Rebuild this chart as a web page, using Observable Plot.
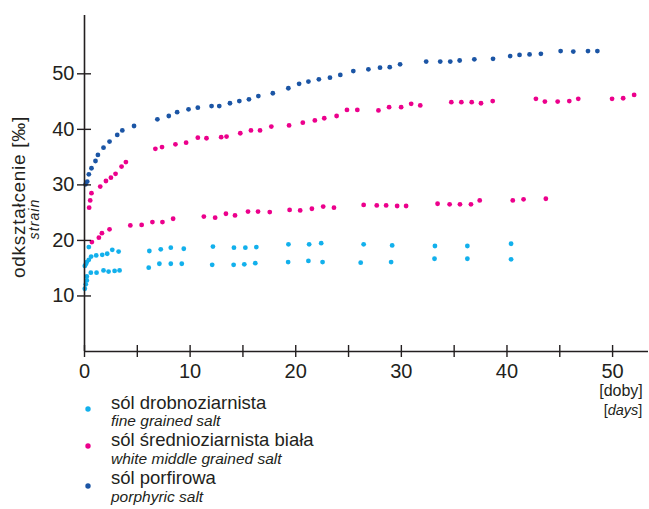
<!DOCTYPE html>
<html>
<head>
<meta charset="utf-8">
<script src="https://cdn.jsdelivr.net/npm/d3@7"></script>
<script src="https://cdn.jsdelivr.net/npm/@observablehq/plot@0.6"></script>
<style>
  body { margin: 0; background: #fff; }
  #wrap { position: relative; width: 649px; height: 509px; overflow: hidden; font-family: "Liberation Sans", Arial, sans-serif; color: #231f20; }
  #wrap > svg { position: absolute; left: 0; top: 0; }
  #legend { position: absolute; left: 0; top: 0; pointer-events: none; }
</style>
</head>
<body>
<div id="wrap"></div>
<script>
// ---- categories / labels ----
const categories = ["sól drobnoziarnista", "sól średnioziarnista biała", "sól porfirowa"];
const categoriesEn = ["fine grained salt", "white middle grained salt", "porphyric salt"];
const colors = ["#12b0ec", "#ec008c", "#1b55a5"];
const yTitle = "odkształcenie [‰]";
const yTitleEn = "strain";
const xTitle = "doby";
const xTitleEn = "days";
const xTickValues = [0, 5, 10, 15, 20, 25, 30, 35, 40, 45, 50];
const xTickLabels = [0, 10, 20, 30, 40, 50];
const yTickValues = [10, 20, 30, 40, 50];

// ---- fine grained salt, sample A (upper) ----
const fineA_x = [0.03, 0.12, 0.22, 0.41, 0.41, 0.63, 1.11, 1.68, 2.15, 2.63, 3.23, 6.14, 7.22, 8.17, 9.4, 12.16, 14.15, 15.23, 16.27, 19.31, 21.27, 22.41, 26.43, 29.13, 33.18, 36.25, 40.39];
const fineA_y = [15.4, 15.7, 16.1, 16.5, 18.8, 17.1, 17.3, 17.4, 17.6, 18.3, 18.0, 18.1, 18.4, 18.7, 18.5, 18.9, 18.7, 18.7, 18.8, 19.3, 19.3, 19.5, 19.3, 19.1, 19.0, 19.0, 19.4];
// ---- fine grained salt, sample B (lower) ----
const fineB_x = [0.03, 0.12, 0.22, 0.22, 0.6, 1.14, 1.8, 2.28, 2.85, 3.32, 6.08, 7.09, 8.17, 9.21, 12.09, 14.12, 15.13, 16.17, 19.28, 21.2, 22.54, 26.15, 29.03, 33.14, 36.25, 40.39];
const fineB_y = [11.3, 12.1, 12.8, 13.5, 14.2, 14.2, 14.6, 14.4, 14.5, 14.6, 15.1, 15.8, 15.8, 15.8, 15.6, 15.6, 15.7, 15.9, 16.1, 16.3, 16.1, 16.0, 16.1, 16.7, 16.7, 16.6];
// ---- white middle grained salt, sample A (upper) ----
const whiteA_x = [0.44, 0.54, 0.66, 1.49, 2.03, 2.5, 2.94, 3.51, 3.92, 6.71, 7.34, 8.61, 9.62, 10.73, 11.55, 12.94, 13.45, 14.75, 15.76, 16.62, 17.69, 19.37, 20.67, 21.81, 22.7, 23.87, 24.85, 25.83, 27.83, 28.84, 29.98, 30.93, 31.79, 34.73, 35.68, 36.66, 37.54, 38.65, 42.74, 43.59, 44.8, 45.9, 46.75, 49.95, 51.0, 52.04];
const whiteA_y = [25.9, 27.2, 28.5, 29.7, 30.7, 31.3, 32.0, 33.3, 34.1, 36.5, 36.8, 37.3, 37.6, 38.5, 38.4, 38.6, 38.7, 39.3, 39.8, 39.8, 40.5, 40.7, 41.2, 41.6, 42.0, 42.4, 43.5, 43.5, 43.4, 44.0, 44.0, 44.6, 44.3, 44.9, 44.9, 44.9, 44.7, 45.1, 45.5, 45.0, 45.0, 45.1, 45.5, 45.5, 45.6, 46.2];
// ---- white middle grained salt, sample B (lower) ----
const whiteB_x = [0.7, 1.36, 1.65, 2.37, 4.34, 5.41, 6.43, 7.38, 8.39, 11.3, 12.37, 13.39, 14.25, 15.48, 16.43, 17.54, 19.42, 20.42, 21.53, 22.6, 23.62, 26.43, 27.67, 28.56, 29.6, 30.45, 33.43, 34.57, 35.55, 36.59, 37.42, 40.55, 41.57, 43.68];
const whiteB_y = [19.7, 20.5, 21.3, 22.0, 22.7, 22.8, 23.3, 23.3, 23.9, 24.3, 24.1, 24.8, 24.5, 25.2, 25.2, 25.1, 25.5, 25.4, 25.7, 26.1, 25.9, 26.4, 26.3, 26.3, 26.2, 26.2, 26.6, 26.5, 26.5, 26.5, 27.2, 27.2, 27.4, 27.5];
// ---- porphyric salt ----
const porph_x = [0.1, 0.26, 0.41, 0.66, 1.04, 1.27, 1.8, 2.37, 3.1, 3.58, 4.69, 6.9, 7.98, 8.77, 9.85, 10.73, 12.03, 12.76, 13.77, 14.66, 15.57, 16.46, 17.83, 19.3, 20.32, 21.2, 22.19, 23.24, 24.22, 25.45, 26.88, 27.98, 28.9, 29.88, 32.35, 33.68, 34.63, 35.52, 36.91, 38.68, 40.3, 41.19, 42.14, 43.21, 45.08, 46.28, 47.67, 48.56];
const porph_y = [30.1, 30.6, 31.9, 33.0, 34.3, 35.4, 36.7, 37.8, 39.0, 39.8, 40.6, 41.8, 42.4, 43.1, 43.6, 43.9, 44.2, 44.2, 44.7, 45.1, 45.4, 46.0, 46.5, 47.4, 48.2, 48.6, 49.0, 49.3, 49.8, 50.5, 50.8, 51.1, 51.2, 51.7, 52.2, 52.2, 52.2, 52.4, 52.6, 52.7, 53.2, 53.4, 53.5, 53.6, 54.1, 54.0, 54.1, 54.1];

// ---- build table ----
const series = (xs, ys, cat) => xs.map((x, i) => ({x, y: ys[i], cat}));
const points = [
  ...series(fineA_x, fineA_y, categories[0]),
  ...series(fineB_x, fineB_y, categories[0]),
  ...series(whiteA_x, whiteA_y, categories[1]),
  ...series(whiteB_x, whiteB_y, categories[1]),
  ...series(porph_x, porph_y, categories[2])
];

const ink = "#231f20";
const font = "'Liberation Sans', Arial, sans-serif";

const chart = Plot.plot({
  width: 649,
  height: 509,
  marginLeft: 84,
  marginRight: 1,
  marginTop: 15,
  marginBottom: 158,
  style: {fontFamily: font, fontSize: "20px", color: ink, background: "transparent"},
  x: {domain: [0, 53.4]},
  y: {domain: [0, 60.5]},
  color: {domain: categories, range: colors},
  marks: [
    Plot.dot(points, {x: "x", y: "y", fill: "cat", r: 2.4}),
    Plot.ruleY([0], {stroke: ink, strokeWidth: 1.6}),
    Plot.ruleX([0], {stroke: ink, strokeWidth: 1.6}),
    Plot.ruleX(xTickValues, {x: d => d, y1: 0, y2: 0, insetTop: -6, insetBottom: -6, stroke: ink, strokeWidth: 1.4}),
    Plot.ruleY(yTickValues, {y: d => d, x1: 0, x2: 0, insetLeft: -7, insetRight: -7, stroke: ink, strokeWidth: 1.4}),
    Plot.axisX({ticks: xTickLabels, tickSize: 0, tickPadding: 12, label: null, fontSize: 20, fill: ink}),
    Plot.axisY({ticks: yTickValues, tickSize: 0, tickPadding: 10, label: null, fontSize: 20, fill: ink})
  ]
});

const wrap = document.getElementById("wrap");
wrap.appendChild(chart);

const svgSel = d3.select(chart);

// y-axis titles (rotated)
svgSel.append("text")
  .attr("transform", "translate(25,197) rotate(-90)")
  .attr("text-anchor", "middle").attr("font-size", 19).attr("letter-spacing", 0.7)
  .attr("font-family", font).attr("fill", ink).text(yTitle);
svgSel.append("text")
  .attr("transform", "translate(38.5,219) rotate(-90)")
  .attr("text-anchor", "middle").attr("font-size", 14).attr("letter-spacing", 1.1)
  .attr("font-style", "italic").attr("font-family", font).attr("fill", ink).text(yTitleEn);

// x-axis unit label: [doby] / [days]
const t1 = svgSel.append("text").attr("x", 621).attr("y", 396).attr("text-anchor", "middle")
  .attr("font-size", 16).attr("fill", ink).attr("font-family", font);
t1.append("tspan").text("[" + xTitle + "]");
const t2 = svgSel.append("text").attr("x", 623).attr("y", 415).attr("text-anchor", "middle")
  .attr("font-size", 14.5).attr("fill", ink).attr("font-family", font);
t2.append("tspan").text("[");
t2.append("tspan").attr("font-style", "italic").text(xTitleEn);
t2.append("tspan").text("]");

// legend (overlay below the plot area)
const legend = d3.select(wrap).append("svg").attr("id", "legend").attr("width", 649).attr("height", 509);
const mainBase = [409, 446, 484];
const subBase = [426, 464, 502];
const dotY = [409, 446, 486];
categories.forEach((c, i) => {
  legend.append("circle").attr("cx", 88).attr("cy", dotY[i]).attr("r", 2.7).attr("fill", colors[i]);
  legend.append("text").attr("x", 111).attr("y", mainBase[i]).attr("font-size", 18.5)
    .attr("font-family", font).attr("fill", ink).text(c);
  legend.append("text").attr("x", 111).attr("y", subBase[i]).attr("font-size", 15.5)
    .attr("font-style", "italic").attr("font-family", font).attr("fill", ink).text(categoriesEn[i]);
});
</script>
</body>
</html>
